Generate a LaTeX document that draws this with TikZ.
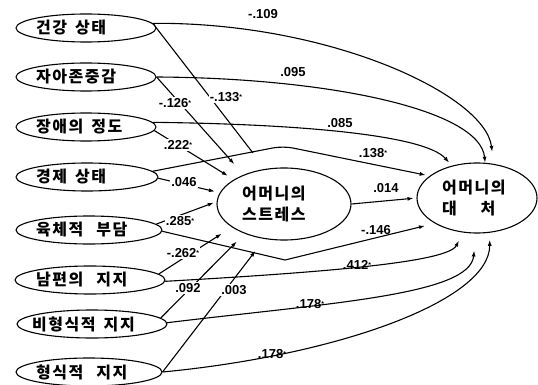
\documentclass[tikz,border=0pt]{standalone}
\usepackage{fontspec}
\usetikzlibrary{arrows.meta,shapes.geometric}
\newfontfamily\kr{Noto Sans CJK KR}[LetterSpace=10]
\newfontfamily\nm{Liberation Sans}
\newcommand{\lftbox}[2]{\makebox[0pt]{\makebox[#1][l]{#2}}}
\newcommand{\ws}{\hspace{8pt}}
\newcommand{\wws}{\hspace{13pt}}
\newcommand{\sig}{\raisebox{2pt}{\fontsize{7}{7}\selectfont *}}
\begin{document}
\begin{tikzpicture}[x=1pt,y=-1pt,
  var/.style={draw, ellipse, line width=1.1pt, inner sep=0pt, font=\kr\bfseries\fontsize{16}{21}\selectfont},
  lv/.style={var, minimum height=28pt},
  conn/.style={line width=1.1pt},
  arr/.style={conn, -{Latex[length=6pt,width=4pt]}},
  coef/.style={font=\nm\bfseries\fontsize{13}{13}\selectfont, inner sep=1pt},
  cut/.style={coef, fill=white},
]
\useasboundingbox (0,0) rectangle (538,385);
% variables
\node[lv, minimum width=140pt] (e1) at (86,28) {\lftbox{100pt}{건강\ws 상태}};
\node[lv, minimum width=140pt] (e2) at (86,77) {\lftbox{100pt}{자아존중감}};
\node[lv, minimum width=140pt] (e3) at (86,127) {\lftbox{100pt}{장애의\ws 정도}};
\node[lv, minimum width=142pt] (e4) at (87,177) {\lftbox{102pt}{경제\ws 상태}};
\node[lv, minimum width=146pt] (e5) at (89,230) {\lftbox{106pt}{육체적\wws 부담}};
\node[lv, minimum width=150pt] (e6) at (90,280) {\lftbox{108pt}{남편의\wws 지지}};
\node[lv, minimum width=150pt] (e7) at (92,324) {\lftbox{120pt}{비형식적\ws 지지}};
\node[lv, minimum width=146pt] (e8) at (89,372) {\lftbox{106pt}{형식적\wws 지지}};
\node[var, minimum width=134pt, minimum height=72pt] (stress) at (284,204)
  {\makebox[0pt]{\parbox{84pt}{어머니의\\스트레스}}};
\node[var, minimum width=120pt, minimum height=70pt] (cope) at (477,198)
  {\makebox[0pt]{\parbox{70pt}{어머니의\\대\hspace{24pt}처}}};
\coordinate (j1) at (253,153);
\coordinate (k4) at (283,146);
\coordinate (k5) at (285,260);
% paths to stress
\draw[conn] (e1.4) -- (j1);
\draw[arr, shorten >=14pt] (e2.east) -- (stress.144.6);
\draw[arr, shorten >=7pt] (e3.-3) -- (stress.154.7);
\draw[arr, shorten >=5pt] (e4.-1) -- (stress.170);
\draw[arr, shorten >=3pt] (e5.5) -- (stress.178);
\draw[arr, shorten >=12pt] (e6.5) -- (stress.204);
\draw[arr, shorten >=11pt] (e7.5) -- (stress.217.5);
\draw[arr, shorten >=15pt] (e8.east) -- (stress.241.6);
% paths to coping
\draw[arr, shorten >=12pt] (e1.4) .. controls (330,22) and (485,95) .. (cope.64.7);
\draw[arr] (e2.east) .. controls (330,78) and (480,110) .. (cope.77);
\draw[arr, shorten >=4pt] (e3.4) .. controls (300,124) and (425,135) .. (cope.128.6);
\draw[arr, shorten >=4pt, rounded corners=10pt] (e4.5) -- (k4) -- (cope.155);
\draw[arr, shorten >=10pt] (e5.-1) -- (k5) -- (cope.211.5);
\draw[arr, shorten >=9pt] (e6.-1) .. controls (330,272) and (448,262) .. (cope.248);
\draw[arr, shorten >=17pt] (e7.1) .. controls (330,303) and (470,295) .. (cope.268);
\draw[arr, shorten >=7pt] (e8.east) .. controls (340,355) and (490,300) .. (cope.290.9);
\draw[arr, shorten >=3pt] (stress.east) -- (cope.west);
% coefficients cutting the stress paths
\node[cut] (c1) at (226,97) {-.133\sig};
\node[cut] (c2) at (175,103) {-.126\sig};
\node[cut] (c3) at (178,145) {.222\sig};
\node[cut] (c4) at (184,182) {.046};
\node[cut] (c5) at (180,221) {.285\sig};
\node[cut] (c6) at (183,253) {-.262\sig};
\node[cut] (c7) at (188,288) {.092};
\node[cut] (c8) at (234,290) {.003};
% coefficients of the direct paths
\node[coef] (d1) at (263,14) {-.109};
\node[coef] (d2) at (293,72) {.095};
\node[coef] (d3) at (340,123) {.085};
\node[coef] (d4) at (373,153) {.138\sig};
\node[coef] (d5) at (376,230) {-.146};
\node[coef] (d6) at (357,265) {.412\sig};
\node[coef] (d7) at (310,304) {.178\sig};
\node[coef] (d8) at (272,354) {.178\sig};
\node[coef] (d9) at (386,188) {.014};
\end{tikzpicture}
\end{document}
